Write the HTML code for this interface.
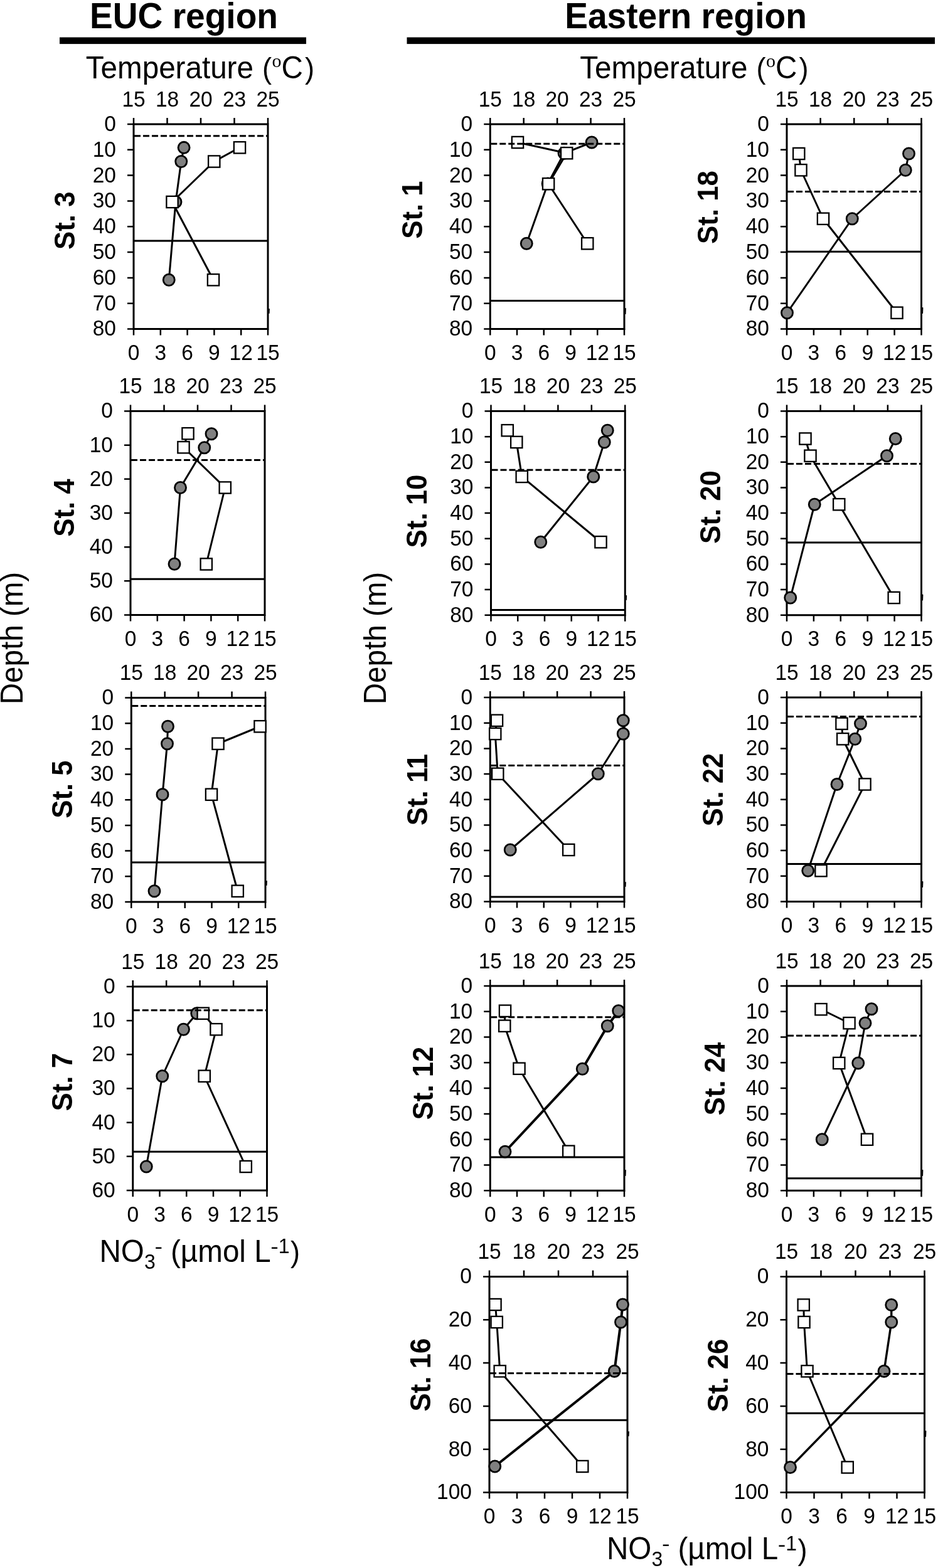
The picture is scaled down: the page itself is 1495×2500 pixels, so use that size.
<!DOCTYPE html>
<html lang="en"><head><meta charset="utf-8"><title>Temperature and nitrate depth profiles</title>
<style>
html,body{margin:0;padding:0;background:#fff;}
body{width:1495px;height:2500px;overflow:hidden;}
svg{display:block;}
text{font-family:"Liberation Sans",Arial,Helvetica,sans-serif;fill:#000;}
.tk{font-size:33.5px;}
.ax{font-size:47.6px;}
.st{font-size:45px;font-weight:bold;}
.ti{font-size:55.1px;font-weight:bold;}
.sub{font-size:32px;}
.a{stroke:#000;stroke-width:3;fill:none;stroke-linecap:butt;}
.t{stroke:#000;stroke-width:2.5;fill:none;}
.l{stroke:#000;stroke-width:3;fill:none;stroke-linejoin:round;}
.d{stroke:#000;stroke-width:3;fill:none;stroke-dasharray:10 4;}
.h{stroke:#000;stroke-width:2.8;fill:none;}
.c{fill:#808080;stroke:#000;stroke-width:2.8;}
.s{fill:#fff;stroke:#000;stroke-width:2.3;}
</style></head><body>
<svg width="1495" height="2500" viewBox="0 0 1495 2500">
<rect x="0" y="0" width="1495" height="2500" fill="#fff"/>
<text class="ti" transform="translate(293 44.7) scale(1 1.038)" text-anchor="middle">EUC region</text>
<rect x="95" y="59.5" width="393" height="10.6" fill="#000"/>
<text class="ti" transform="translate(1093 44.7) scale(1 1.038)" text-anchor="middle">Eastern region</text>
<rect x="648.5" y="59.5" width="841.5" height="10.6" fill="#000"/>
<text class="ax" transform="translate(136.8 125) scale(1 1.03)">Temperature</text>
<text class="ax" transform="translate(418 125.3) scale(0.95 0.985)">(</text>
<text class="ax" transform="translate(433.4 106.6)" style="font-family:'Liberation Serif','Times New Roman',serif;font-size:30px">o</text>
<text class="ax" transform="translate(448.6 125) scale(1 1.03)">C</text>
<text class="ax" transform="translate(486.1 125.3) scale(0.95 0.985)">)</text>
<text class="ax" transform="translate(924.3 125) scale(1 1.03)">Temperature</text>
<text class="ax" transform="translate(1205.5 125.3) scale(0.95 0.985)">(</text>
<text class="ax" transform="translate(1220.9 106.6)" style="font-family:'Liberation Serif','Times New Roman',serif;font-size:30px">o</text>
<text class="ax" transform="translate(1236.1 125) scale(1 1.03)">C</text>
<text class="ax" transform="translate(1273.6 125.3) scale(0.95 0.985)">)</text>
<text class="ax" transform="translate(158.5 2011.7) scale(1 1.03)">NO</text>
<text class="sub" transform="translate(230.1 2022.7) scale(1 1.02)">3</text>
<text class="sub" transform="translate(246.6 1997.85) scale(1.18 1)">-</text>
<text class="ax" transform="translate(272 2011.7) scale(1 1.03)">(µmol L</text>
<text class="sub" transform="translate(431.3 1997.9) scale(1.18 1)">-</text>
<text class="sub" transform="translate(443.65 1997.5) scale(1 1.03)">1</text>
<text class="ax" transform="translate(462.9 2012) scale(0.95 0.985)">)</text>
<text class="ax" transform="translate(967 2486.3) scale(1 1.03)">NO</text>
<text class="sub" transform="translate(1038.6 2497.3) scale(1 1.02)">3</text>
<text class="sub" transform="translate(1055.1 2472.45) scale(1.18 1)">-</text>
<text class="ax" transform="translate(1080.5 2486.3) scale(1 1.03)">(µmol L</text>
<text class="sub" transform="translate(1239.8 2472.5) scale(1.18 1)">-</text>
<text class="sub" transform="translate(1252.15 2472.1) scale(1 1.03)">1</text>
<text class="ax" transform="translate(1271.4 2486.6) scale(0.95 0.985)">)</text>
<text class="ax" transform="translate(35.5 1017.6) rotate(-90) scale(1 1.03)" text-anchor="middle">Depth (m)</text>
<text class="ax" transform="translate(615 1017.6) rotate(-90) scale(1 1.03)" text-anchor="middle">Depth (m)</text>
<g>
<text class="st" transform="translate(119 351.7) rotate(-90) scale(0.973 1.04)" text-anchor="middle">St. 3</text>
<text class="tk" transform="translate(213 169.5) scale(1 1.04)" text-anchor="middle">15</text>
<text class="tk" transform="translate(266.5 169.5) scale(1 1.04)" text-anchor="middle">18</text>
<text class="tk" transform="translate(320 169.5) scale(1 1.04)" text-anchor="middle">20</text>
<text class="tk" transform="translate(373.5 169.5) scale(1 1.04)" text-anchor="middle">23</text>
<text class="tk" transform="translate(427 169.5) scale(1 1.04)" text-anchor="middle">25</text>
<text class="tk" transform="translate(213 574.2) scale(1 1.04)" text-anchor="middle">0</text>
<text class="tk" transform="translate(255.8 574.2) scale(1 1.04)" text-anchor="middle">3</text>
<text class="tk" transform="translate(298.6 574.2) scale(1 1.04)" text-anchor="middle">6</text>
<text class="tk" transform="translate(341.4 574.2) scale(1 1.04)" text-anchor="middle">9</text>
<text class="tk" transform="translate(384.2 574.2) scale(1 1.04)" text-anchor="middle">12</text>
<text class="tk" transform="translate(427 574.2) scale(1 1.04)" text-anchor="middle">15</text>
<text class="tk" transform="translate(184.9 208.9) scale(1 1.04)" text-anchor="end">0</text>
<text class="tk" transform="translate(184.9 249.71) scale(1 1.04)" text-anchor="end">10</text>
<text class="tk" transform="translate(184.9 290.52) scale(1 1.04)" text-anchor="end">20</text>
<text class="tk" transform="translate(184.9 331.34) scale(1 1.04)" text-anchor="end">30</text>
<text class="tk" transform="translate(184.9 372.15) scale(1 1.04)" text-anchor="end">40</text>
<text class="tk" transform="translate(184.9 412.96) scale(1 1.04)" text-anchor="end">50</text>
<text class="tk" transform="translate(184.9 453.77) scale(1 1.04)" text-anchor="end">60</text>
<text class="tk" transform="translate(184.9 494.59) scale(1 1.04)" text-anchor="end">70</text>
<text class="tk" transform="translate(184.9 535.4) scale(1 1.04)" text-anchor="end">80</text>
<path class="t" d="M213 198V188M266.5 198V188M320 198V188M373.5 198V188M427 198V188M213 524.5V534.5M255.8 524.5V534.5M298.6 524.5V534.5M341.4 524.5V534.5M384.2 524.5V534.5M427 524.5V534.5M213 198H203M213 238.81H203M213 279.62H203M213 320.44H203M213 361.25H203M213 402.06H203M213 442.88H203M213 483.69H203M213 524.5H203"/>
<rect class="a" x="213" y="198" width="214" height="326.5"/>
<path d="M428.7 499.2L429 492.8" stroke="#000" stroke-width="1.8" stroke-linecap="round" fill="none"/>
<polyline class="l" points="293.1,235.3 288.75,257.5 280,322 269.25,446.25"/>
<circle class="c" cx="293.1" cy="235.3" r="9.05"/>
<circle class="c" cx="288.75" cy="257.5" r="9.05"/>
<circle class="c" cx="280" cy="322" r="9.05"/>
<circle class="c" cx="269.25" cy="446.25" r="9.05"/>
<polyline class="l" points="382,235.3 341.25,257.5 274.5,322 340,446.25"/>
<rect class="s" x="372.85" y="226.15" width="18.3" height="18.3"/>
<rect class="s" x="332.1" y="248.35" width="18.3" height="18.3"/>
<rect class="s" x="265.35" y="312.85" width="18.3" height="18.3"/>
<rect class="s" x="330.85" y="437.1" width="18.3" height="18.3"/>
<path class="d" d="M214 216.75H427"/>
<path class="h" d="M213 384H427"/>
</g>
<g>
<text class="st" transform="translate(118.2 809.5) rotate(-90) scale(0.973 1.04)" text-anchor="middle">St. 4</text>
<text class="tk" transform="translate(208 627) scale(1 1.04)" text-anchor="middle">15</text>
<text class="tk" transform="translate(261.5 627) scale(1 1.04)" text-anchor="middle">18</text>
<text class="tk" transform="translate(315 627) scale(1 1.04)" text-anchor="middle">20</text>
<text class="tk" transform="translate(368.5 627) scale(1 1.04)" text-anchor="middle">23</text>
<text class="tk" transform="translate(422 627) scale(1 1.04)" text-anchor="middle">25</text>
<text class="tk" transform="translate(208 1030.2) scale(1 1.04)" text-anchor="middle">0</text>
<text class="tk" transform="translate(250.8 1030.2) scale(1 1.04)" text-anchor="middle">3</text>
<text class="tk" transform="translate(293.6 1030.2) scale(1 1.04)" text-anchor="middle">6</text>
<text class="tk" transform="translate(336.4 1030.2) scale(1 1.04)" text-anchor="middle">9</text>
<text class="tk" transform="translate(379.2 1030.2) scale(1 1.04)" text-anchor="middle">12</text>
<text class="tk" transform="translate(422 1030.2) scale(1 1.04)" text-anchor="middle">15</text>
<text class="tk" transform="translate(179.9 666.4) scale(1 1.04)" text-anchor="end">0</text>
<text class="tk" transform="translate(179.9 720.57) scale(1 1.04)" text-anchor="end">10</text>
<text class="tk" transform="translate(179.9 774.73) scale(1 1.04)" text-anchor="end">20</text>
<text class="tk" transform="translate(179.9 828.9) scale(1 1.04)" text-anchor="end">30</text>
<text class="tk" transform="translate(179.9 883.07) scale(1 1.04)" text-anchor="end">40</text>
<text class="tk" transform="translate(179.9 937.23) scale(1 1.04)" text-anchor="end">50</text>
<text class="tk" transform="translate(179.9 991.4) scale(1 1.04)" text-anchor="end">60</text>
<path class="t" d="M208 655.5V645.5M261.5 655.5V645.5M315 655.5V645.5M368.5 655.5V645.5M422 655.5V645.5M208 980.5V990.5M250.8 980.5V990.5M293.6 980.5V990.5M336.4 980.5V990.5M379.2 980.5V990.5M422 980.5V990.5M208 655.5H198M208 709.67H198M208 763.83H198M208 818H198M208 872.17H198M208 926.33H198M208 980.5H198"/>
<rect class="a" x="208" y="655.5" width="214" height="325"/>
<polyline class="l" points="337,691.75 325.75,713.75 287.5,777.5 278,899.25"/>
<circle class="c" cx="337" cy="691.75" r="9.05"/>
<circle class="c" cx="325.75" cy="713.75" r="9.05"/>
<circle class="c" cx="287.5" cy="777.5" r="9.05"/>
<circle class="c" cx="278" cy="899.25" r="9.05"/>
<polyline class="l" points="299.5,691.25 292.5,713.25 358.75,777.5 328.75,899.5"/>
<rect class="s" x="290.35" y="682.1" width="18.3" height="18.3"/>
<rect class="s" x="283.35" y="704.1" width="18.3" height="18.3"/>
<rect class="s" x="349.6" y="768.35" width="18.3" height="18.3"/>
<rect class="s" x="319.6" y="890.35" width="18.3" height="18.3"/>
<path class="d" d="M209 733.5H422"/>
<path class="h" d="M208 923.25H422"/>
</g>
<g>
<text class="st" transform="translate(114.8 1258.5) rotate(-90) scale(0.973 1.04)" text-anchor="middle">St. 5</text>
<text class="tk" transform="translate(209.25 1084) scale(1 1.04)" text-anchor="middle">15</text>
<text class="tk" transform="translate(262.69 1084) scale(1 1.04)" text-anchor="middle">18</text>
<text class="tk" transform="translate(316.12 1084) scale(1 1.04)" text-anchor="middle">20</text>
<text class="tk" transform="translate(369.56 1084) scale(1 1.04)" text-anchor="middle">23</text>
<text class="tk" transform="translate(423 1084) scale(1 1.04)" text-anchor="middle">25</text>
<text class="tk" transform="translate(209.25 1487.7) scale(1 1.04)" text-anchor="middle">0</text>
<text class="tk" transform="translate(252 1487.7) scale(1 1.04)" text-anchor="middle">3</text>
<text class="tk" transform="translate(294.75 1487.7) scale(1 1.04)" text-anchor="middle">6</text>
<text class="tk" transform="translate(337.5 1487.7) scale(1 1.04)" text-anchor="middle">9</text>
<text class="tk" transform="translate(380.25 1487.7) scale(1 1.04)" text-anchor="middle">12</text>
<text class="tk" transform="translate(423 1487.7) scale(1 1.04)" text-anchor="middle">15</text>
<text class="tk" transform="translate(181.15 1123.4) scale(1 1.04)" text-anchor="end">0</text>
<text class="tk" transform="translate(181.15 1164.09) scale(1 1.04)" text-anchor="end">10</text>
<text class="tk" transform="translate(181.15 1204.78) scale(1 1.04)" text-anchor="end">20</text>
<text class="tk" transform="translate(181.15 1245.46) scale(1 1.04)" text-anchor="end">30</text>
<text class="tk" transform="translate(181.15 1286.15) scale(1 1.04)" text-anchor="end">40</text>
<text class="tk" transform="translate(181.15 1326.84) scale(1 1.04)" text-anchor="end">50</text>
<text class="tk" transform="translate(181.15 1367.53) scale(1 1.04)" text-anchor="end">60</text>
<text class="tk" transform="translate(181.15 1408.21) scale(1 1.04)" text-anchor="end">70</text>
<text class="tk" transform="translate(181.15 1448.9) scale(1 1.04)" text-anchor="end">80</text>
<path class="t" d="M209.25 1112.5V1102.5M262.69 1112.5V1102.5M316.12 1112.5V1102.5M369.56 1112.5V1102.5M423 1112.5V1102.5M209.25 1438V1448M252 1438V1448M294.75 1438V1448M337.5 1438V1448M380.25 1438V1448M423 1438V1448M209.25 1112.5H199.25M209.25 1153.19H199.25M209.25 1193.88H199.25M209.25 1234.56H199.25M209.25 1275.25H199.25M209.25 1315.94H199.25M209.25 1356.62H199.25M209.25 1397.31H199.25M209.25 1438H199.25"/>
<rect class="a" x="209.25" y="1112.5" width="213.75" height="325.5"/>
<path d="M424.7 1411.2L425 1404.8" stroke="#000" stroke-width="1.8" stroke-linecap="round" fill="none"/>
<polyline class="l" points="267.5,1158.25 266.5,1185.75 259,1266.75 246,1420.75"/>
<circle class="c" cx="267.5" cy="1158.25" r="9.05"/>
<circle class="c" cx="266.5" cy="1185.75" r="9.05"/>
<circle class="c" cx="259" cy="1266.75" r="9.05"/>
<circle class="c" cx="246" cy="1420.75" r="9.05"/>
<polyline class="l" points="414.5,1158.25 347.5,1185.75 337,1266.75 378.75,1420.75"/>
<rect class="s" x="405.35" y="1149.1" width="18.3" height="18.3"/>
<rect class="s" x="338.35" y="1176.6" width="18.3" height="18.3"/>
<rect class="s" x="327.85" y="1257.6" width="18.3" height="18.3"/>
<rect class="s" x="369.6" y="1411.6" width="18.3" height="18.3"/>
<path class="d" d="M210.25 1125.5H423"/>
<path class="h" d="M209.25 1375H423"/>
</g>
<g>
<text class="st" transform="translate(114.8 1725.2) rotate(-90) scale(0.973 1.04)" text-anchor="middle">St. 7</text>
<text class="tk" transform="translate(211.75 1544.5) scale(1 1.04)" text-anchor="middle">15</text>
<text class="tk" transform="translate(265.19 1544.5) scale(1 1.04)" text-anchor="middle">18</text>
<text class="tk" transform="translate(318.62 1544.5) scale(1 1.04)" text-anchor="middle">20</text>
<text class="tk" transform="translate(372.06 1544.5) scale(1 1.04)" text-anchor="middle">23</text>
<text class="tk" transform="translate(425.5 1544.5) scale(1 1.04)" text-anchor="middle">25</text>
<text class="tk" transform="translate(211.75 1947.7) scale(1 1.04)" text-anchor="middle">0</text>
<text class="tk" transform="translate(254.5 1947.7) scale(1 1.04)" text-anchor="middle">3</text>
<text class="tk" transform="translate(297.25 1947.7) scale(1 1.04)" text-anchor="middle">6</text>
<text class="tk" transform="translate(340 1947.7) scale(1 1.04)" text-anchor="middle">9</text>
<text class="tk" transform="translate(382.75 1947.7) scale(1 1.04)" text-anchor="middle">12</text>
<text class="tk" transform="translate(425.5 1947.7) scale(1 1.04)" text-anchor="middle">15</text>
<text class="tk" transform="translate(183.65 1583.9) scale(1 1.04)" text-anchor="end">0</text>
<text class="tk" transform="translate(183.65 1638.07) scale(1 1.04)" text-anchor="end">10</text>
<text class="tk" transform="translate(183.65 1692.23) scale(1 1.04)" text-anchor="end">20</text>
<text class="tk" transform="translate(183.65 1746.4) scale(1 1.04)" text-anchor="end">30</text>
<text class="tk" transform="translate(183.65 1800.57) scale(1 1.04)" text-anchor="end">40</text>
<text class="tk" transform="translate(183.65 1854.73) scale(1 1.04)" text-anchor="end">50</text>
<text class="tk" transform="translate(183.65 1908.9) scale(1 1.04)" text-anchor="end">60</text>
<path class="t" d="M211.75 1573V1563M265.19 1573V1563M318.62 1573V1563M372.06 1573V1563M425.5 1573V1563M211.75 1898V1908M254.5 1898V1908M297.25 1898V1908M340 1898V1908M382.75 1898V1908M425.5 1898V1908M211.75 1573H201.75M211.75 1627.17H201.75M211.75 1681.33H201.75M211.75 1735.5H201.75M211.75 1789.67H201.75M211.75 1843.83H201.75M211.75 1898H201.75"/>
<rect class="a" x="211.75" y="1573" width="213.75" height="325"/>
<polyline class="l" points="313.75,1615.75 292.5,1641.25 258.75,1715.75 233.25,1860"/>
<circle class="c" cx="313.75" cy="1615.75" r="9.05"/>
<circle class="c" cx="292.5" cy="1641.25" r="9.05"/>
<circle class="c" cx="258.75" cy="1715.75" r="9.05"/>
<circle class="c" cx="233.25" cy="1860" r="9.05"/>
<polyline class="l" points="323.75,1615.75 344.5,1641.25 325.75,1715.75 391.75,1860"/>
<rect class="s" x="314.6" y="1606.6" width="18.3" height="18.3"/>
<rect class="s" x="335.35" y="1632.1" width="18.3" height="18.3"/>
<rect class="s" x="316.6" y="1706.6" width="18.3" height="18.3"/>
<rect class="s" x="382.6" y="1850.85" width="18.3" height="18.3"/>
<path class="d" d="M212.75 1610.75H425.5"/>
<path class="h" d="M211.75 1836.25H425.5"/>
</g>
<g>
<text class="st" transform="translate(672.5 334.5) rotate(-90) scale(0.973 1.04)" text-anchor="middle">St. 1</text>
<text class="tk" transform="translate(781.25 169.5) scale(1 1.04)" text-anchor="middle">15</text>
<text class="tk" transform="translate(834.69 169.5) scale(1 1.04)" text-anchor="middle">18</text>
<text class="tk" transform="translate(888.12 169.5) scale(1 1.04)" text-anchor="middle">20</text>
<text class="tk" transform="translate(941.56 169.5) scale(1 1.04)" text-anchor="middle">23</text>
<text class="tk" transform="translate(995 169.5) scale(1 1.04)" text-anchor="middle">25</text>
<text class="tk" transform="translate(781.25 574.2) scale(1 1.04)" text-anchor="middle">0</text>
<text class="tk" transform="translate(824 574.2) scale(1 1.04)" text-anchor="middle">3</text>
<text class="tk" transform="translate(866.75 574.2) scale(1 1.04)" text-anchor="middle">6</text>
<text class="tk" transform="translate(909.5 574.2) scale(1 1.04)" text-anchor="middle">9</text>
<text class="tk" transform="translate(952.25 574.2) scale(1 1.04)" text-anchor="middle">12</text>
<text class="tk" transform="translate(995 574.2) scale(1 1.04)" text-anchor="middle">15</text>
<text class="tk" transform="translate(753.15 208.9) scale(1 1.04)" text-anchor="end">0</text>
<text class="tk" transform="translate(753.15 249.71) scale(1 1.04)" text-anchor="end">10</text>
<text class="tk" transform="translate(753.15 290.52) scale(1 1.04)" text-anchor="end">20</text>
<text class="tk" transform="translate(753.15 331.34) scale(1 1.04)" text-anchor="end">30</text>
<text class="tk" transform="translate(753.15 372.15) scale(1 1.04)" text-anchor="end">40</text>
<text class="tk" transform="translate(753.15 412.96) scale(1 1.04)" text-anchor="end">50</text>
<text class="tk" transform="translate(753.15 453.77) scale(1 1.04)" text-anchor="end">60</text>
<text class="tk" transform="translate(753.15 494.59) scale(1 1.04)" text-anchor="end">70</text>
<text class="tk" transform="translate(753.15 535.4) scale(1 1.04)" text-anchor="end">80</text>
<path class="t" d="M781.25 198V188M834.69 198V188M888.12 198V188M941.56 198V188M995 198V188M781.25 524.5V534.5M824 524.5V534.5M866.75 524.5V534.5M909.5 524.5V534.5M952.25 524.5V534.5M995 524.5V534.5M781.25 198H771.25M781.25 238.81H771.25M781.25 279.62H771.25M781.25 320.44H771.25M781.25 361.25H771.25M781.25 402.06H771.25M781.25 442.88H771.25M781.25 483.69H771.25M781.25 524.5H771.25"/>
<rect class="a" x="781.25" y="198" width="213.75" height="326.5"/>
<path d="M996.7 500.2L997 491.8" stroke="#000" stroke-width="1.8" stroke-linecap="round" fill="none"/>
<polyline class="l" points="943.1,227 899,244.3 873.1,292.9 839.25,388.25"/>
<circle class="c" cx="943.1" cy="227" r="9.05"/>
<circle class="c" cx="899" cy="244.3" r="9.05"/>
<circle class="c" cx="873.1" cy="292.9" r="9.05"/>
<circle class="c" cx="839.25" cy="388.25" r="9.05"/>
<polyline class="l" points="825,227 903.2,244.2 874.1,293.2 936.25,388.25"/>
<rect class="s" x="815.85" y="217.85" width="18.3" height="18.3"/>
<rect class="s" x="894.05" y="235.05" width="18.3" height="18.3"/>
<rect class="s" x="864.95" y="284.05" width="18.3" height="18.3"/>
<rect class="s" x="927.1" y="379.1" width="18.3" height="18.3"/>
<path class="d" d="M782.25 229.25H995"/>
<path class="h" d="M781.25 479.5H995"/>
</g>
<g>
<text class="st" transform="translate(680 815) rotate(-90) scale(0.973 1.04)" text-anchor="middle">St. 10</text>
<text class="tk" transform="translate(782.5 627) scale(1 1.04)" text-anchor="middle">15</text>
<text class="tk" transform="translate(835.94 627) scale(1 1.04)" text-anchor="middle">18</text>
<text class="tk" transform="translate(889.38 627) scale(1 1.04)" text-anchor="middle">20</text>
<text class="tk" transform="translate(942.81 627) scale(1 1.04)" text-anchor="middle">23</text>
<text class="tk" transform="translate(996.25 627) scale(1 1.04)" text-anchor="middle">25</text>
<text class="tk" transform="translate(782.5 1030.45) scale(1 1.04)" text-anchor="middle">0</text>
<text class="tk" transform="translate(825.25 1030.45) scale(1 1.04)" text-anchor="middle">3</text>
<text class="tk" transform="translate(868 1030.45) scale(1 1.04)" text-anchor="middle">6</text>
<text class="tk" transform="translate(910.75 1030.45) scale(1 1.04)" text-anchor="middle">9</text>
<text class="tk" transform="translate(953.5 1030.45) scale(1 1.04)" text-anchor="middle">12</text>
<text class="tk" transform="translate(996.25 1030.45) scale(1 1.04)" text-anchor="middle">15</text>
<text class="tk" transform="translate(754.4 666.4) scale(1 1.04)" text-anchor="end">0</text>
<text class="tk" transform="translate(754.4 707.06) scale(1 1.04)" text-anchor="end">10</text>
<text class="tk" transform="translate(754.4 747.71) scale(1 1.04)" text-anchor="end">20</text>
<text class="tk" transform="translate(754.4 788.37) scale(1 1.04)" text-anchor="end">30</text>
<text class="tk" transform="translate(754.4 829.02) scale(1 1.04)" text-anchor="end">40</text>
<text class="tk" transform="translate(754.4 869.68) scale(1 1.04)" text-anchor="end">50</text>
<text class="tk" transform="translate(754.4 910.34) scale(1 1.04)" text-anchor="end">60</text>
<text class="tk" transform="translate(754.4 950.99) scale(1 1.04)" text-anchor="end">70</text>
<text class="tk" transform="translate(754.4 991.65) scale(1 1.04)" text-anchor="end">80</text>
<path class="t" d="M782.5 655.5V645.5M835.94 655.5V645.5M889.38 655.5V645.5M942.81 655.5V645.5M996.25 655.5V645.5M782.5 980.75V990.75M825.25 980.75V990.75M868 980.75V990.75M910.75 980.75V990.75M953.5 980.75V990.75M996.25 980.75V990.75M782.5 655.5H772.5M782.5 696.16H772.5M782.5 736.81H772.5M782.5 777.47H772.5M782.5 818.12H772.5M782.5 858.78H772.5M782.5 899.44H772.5M782.5 940.09H772.5M782.5 980.75H772.5"/>
<rect class="a" x="782.5" y="655.5" width="213.75" height="325.25"/>
<path d="M997.95 956.2L998.25 949.8" stroke="#000" stroke-width="1.8" stroke-linecap="round" fill="none"/>
<polyline class="l" points="968.25,686.25 963.25,705 945.75,760 861.75,864.25"/>
<circle class="c" cx="968.25" cy="686.25" r="9.05"/>
<circle class="c" cx="963.25" cy="705" r="9.05"/>
<circle class="c" cx="945.75" cy="760" r="9.05"/>
<circle class="c" cx="861.75" cy="864.25" r="9.05"/>
<polyline class="l" points="808.75,686.25 823.25,705 831.75,760 957.5,864.25"/>
<rect class="s" x="799.6" y="677.1" width="18.3" height="18.3"/>
<rect class="s" x="814.1" y="695.85" width="18.3" height="18.3"/>
<rect class="s" x="822.6" y="750.85" width="18.3" height="18.3"/>
<rect class="s" x="948.35" y="855.1" width="18.3" height="18.3"/>
<path class="d" d="M783.5 749.25H996.25"/>
<path class="h" d="M782.5 972.5H996.25"/>
</g>
<g>
<text class="st" transform="translate(681 1259) rotate(-90) scale(0.973 1.04)" text-anchor="middle">St. 11</text>
<text class="tk" transform="translate(781.25 1083.5) scale(1 1.04)" text-anchor="middle">15</text>
<text class="tk" transform="translate(834.69 1083.5) scale(1 1.04)" text-anchor="middle">18</text>
<text class="tk" transform="translate(888.12 1083.5) scale(1 1.04)" text-anchor="middle">20</text>
<text class="tk" transform="translate(941.56 1083.5) scale(1 1.04)" text-anchor="middle">23</text>
<text class="tk" transform="translate(995 1083.5) scale(1 1.04)" text-anchor="middle">25</text>
<text class="tk" transform="translate(781.25 1487.2) scale(1 1.04)" text-anchor="middle">0</text>
<text class="tk" transform="translate(824 1487.2) scale(1 1.04)" text-anchor="middle">3</text>
<text class="tk" transform="translate(866.75 1487.2) scale(1 1.04)" text-anchor="middle">6</text>
<text class="tk" transform="translate(909.5 1487.2) scale(1 1.04)" text-anchor="middle">9</text>
<text class="tk" transform="translate(952.25 1487.2) scale(1 1.04)" text-anchor="middle">12</text>
<text class="tk" transform="translate(995 1487.2) scale(1 1.04)" text-anchor="middle">15</text>
<text class="tk" transform="translate(753.15 1122.9) scale(1 1.04)" text-anchor="end">0</text>
<text class="tk" transform="translate(753.15 1163.59) scale(1 1.04)" text-anchor="end">10</text>
<text class="tk" transform="translate(753.15 1204.28) scale(1 1.04)" text-anchor="end">20</text>
<text class="tk" transform="translate(753.15 1244.96) scale(1 1.04)" text-anchor="end">30</text>
<text class="tk" transform="translate(753.15 1285.65) scale(1 1.04)" text-anchor="end">40</text>
<text class="tk" transform="translate(753.15 1326.34) scale(1 1.04)" text-anchor="end">50</text>
<text class="tk" transform="translate(753.15 1367.03) scale(1 1.04)" text-anchor="end">60</text>
<text class="tk" transform="translate(753.15 1407.71) scale(1 1.04)" text-anchor="end">70</text>
<text class="tk" transform="translate(753.15 1448.4) scale(1 1.04)" text-anchor="end">80</text>
<path class="t" d="M781.25 1112V1102M834.69 1112V1102M888.12 1112V1102M941.56 1112V1102M995 1112V1102M781.25 1437.5V1447.5M824 1437.5V1447.5M866.75 1437.5V1447.5M909.5 1437.5V1447.5M952.25 1437.5V1447.5M995 1437.5V1447.5M781.25 1112H771.25M781.25 1152.69H771.25M781.25 1193.38H771.25M781.25 1234.06H771.25M781.25 1274.75H771.25M781.25 1315.44H771.25M781.25 1356.12H771.25M781.25 1396.81H771.25M781.25 1437.5H771.25"/>
<rect class="a" x="781.25" y="1112" width="213.75" height="325.5"/>
<path d="M996.7 1413.2L997 1406.8" stroke="#000" stroke-width="1.8" stroke-linecap="round" fill="none"/>
<polyline class="l" points="993.25,1148.75 993.25,1170 953.25,1233.75 813.25,1355"/>
<circle class="c" cx="993.25" cy="1148.75" r="9.05"/>
<circle class="c" cx="993.25" cy="1170" r="9.05"/>
<circle class="c" cx="953.25" cy="1233.75" r="9.05"/>
<circle class="c" cx="813.25" cy="1355" r="9.05"/>
<polyline class="l" points="792,1148.75 789.25,1170 793.25,1233.75 906.25,1355"/>
<rect class="s" x="782.85" y="1139.6" width="18.3" height="18.3"/>
<rect class="s" x="780.1" y="1160.85" width="18.3" height="18.3"/>
<rect class="s" x="784.1" y="1224.6" width="18.3" height="18.3"/>
<rect class="s" x="897.1" y="1345.85" width="18.3" height="18.3"/>
<path class="d" d="M782.25 1220.5H995"/>
<path class="h" d="M781.25 1430H995"/>
</g>
<g>
<text class="st" transform="translate(689.5 1727) rotate(-90) scale(0.973 1.04)" text-anchor="middle">St. 12</text>
<text class="tk" transform="translate(781.25 1543.5) scale(1 1.04)" text-anchor="middle">15</text>
<text class="tk" transform="translate(834.69 1543.5) scale(1 1.04)" text-anchor="middle">18</text>
<text class="tk" transform="translate(888.12 1543.5) scale(1 1.04)" text-anchor="middle">20</text>
<text class="tk" transform="translate(941.56 1543.5) scale(1 1.04)" text-anchor="middle">23</text>
<text class="tk" transform="translate(995 1543.5) scale(1 1.04)" text-anchor="middle">25</text>
<text class="tk" transform="translate(781.25 1947.95) scale(1 1.04)" text-anchor="middle">0</text>
<text class="tk" transform="translate(824 1947.95) scale(1 1.04)" text-anchor="middle">3</text>
<text class="tk" transform="translate(866.75 1947.95) scale(1 1.04)" text-anchor="middle">6</text>
<text class="tk" transform="translate(909.5 1947.95) scale(1 1.04)" text-anchor="middle">9</text>
<text class="tk" transform="translate(952.25 1947.95) scale(1 1.04)" text-anchor="middle">12</text>
<text class="tk" transform="translate(995 1947.95) scale(1 1.04)" text-anchor="middle">15</text>
<text class="tk" transform="translate(753.15 1582.9) scale(1 1.04)" text-anchor="end">0</text>
<text class="tk" transform="translate(753.15 1623.68) scale(1 1.04)" text-anchor="end">10</text>
<text class="tk" transform="translate(753.15 1664.46) scale(1 1.04)" text-anchor="end">20</text>
<text class="tk" transform="translate(753.15 1705.24) scale(1 1.04)" text-anchor="end">30</text>
<text class="tk" transform="translate(753.15 1746.03) scale(1 1.04)" text-anchor="end">40</text>
<text class="tk" transform="translate(753.15 1786.81) scale(1 1.04)" text-anchor="end">50</text>
<text class="tk" transform="translate(753.15 1827.59) scale(1 1.04)" text-anchor="end">60</text>
<text class="tk" transform="translate(753.15 1868.37) scale(1 1.04)" text-anchor="end">70</text>
<text class="tk" transform="translate(753.15 1909.15) scale(1 1.04)" text-anchor="end">80</text>
<path class="t" d="M781.25 1572V1562M834.69 1572V1562M888.12 1572V1562M941.56 1572V1562M995 1572V1562M781.25 1898.25V1908.25M824 1898.25V1908.25M866.75 1898.25V1908.25M909.5 1898.25V1908.25M952.25 1898.25V1908.25M995 1898.25V1908.25M781.25 1572H771.25M781.25 1612.78H771.25M781.25 1653.56H771.25M781.25 1694.34H771.25M781.25 1735.12H771.25M781.25 1775.91H771.25M781.25 1816.69H771.25M781.25 1857.47H771.25M781.25 1898.25H771.25"/>
<rect class="a" x="781.25" y="1572" width="213.75" height="326.25"/>
<path d="M996.7 1874.2L997 1865.8" stroke="#000" stroke-width="1.8" stroke-linecap="round" fill="none"/>
<polyline class="l" style="stroke-width:4" points="985.75,1611.75 968.25,1635.75 928.25,1704.25 805,1836.25"/>
<circle class="c" cx="985.75" cy="1611.75" r="9.05"/>
<circle class="c" cx="968.25" cy="1635.75" r="9.05"/>
<circle class="c" cx="928.25" cy="1704.25" r="9.05"/>
<circle class="c" cx="805" cy="1836.25" r="9.05"/>
<polyline class="l" points="805,1611.75 804.25,1635.75 827.5,1703.75 906.25,1835.75"/>
<rect class="s" x="795.85" y="1602.6" width="18.3" height="18.3"/>
<rect class="s" x="795.1" y="1626.6" width="18.3" height="18.3"/>
<rect class="s" x="818.35" y="1694.6" width="18.3" height="18.3"/>
<rect class="s" x="897.1" y="1826.6" width="18.3" height="18.3"/>
<path class="d" d="M782.25 1621.75H995"/>
<path class="h" d="M781.25 1845H995"/>
</g>
<g>
<text class="st" transform="translate(686 2192) rotate(-90) scale(0.973 1.04)" text-anchor="middle">St. 16</text>
<text class="tk" transform="translate(780 2007) scale(1 1.04)" text-anchor="middle">15</text>
<text class="tk" transform="translate(835 2007) scale(1 1.04)" text-anchor="middle">18</text>
<text class="tk" transform="translate(890 2007) scale(1 1.04)" text-anchor="middle">20</text>
<text class="tk" transform="translate(945 2007) scale(1 1.04)" text-anchor="middle">23</text>
<text class="tk" transform="translate(1000 2007) scale(1 1.04)" text-anchor="middle">25</text>
<text class="tk" transform="translate(780 2429.2) scale(1 1.04)" text-anchor="middle">0</text>
<text class="tk" transform="translate(824 2429.2) scale(1 1.04)" text-anchor="middle">3</text>
<text class="tk" transform="translate(868 2429.2) scale(1 1.04)" text-anchor="middle">6</text>
<text class="tk" transform="translate(912 2429.2) scale(1 1.04)" text-anchor="middle">9</text>
<text class="tk" transform="translate(956 2429.2) scale(1 1.04)" text-anchor="middle">12</text>
<text class="tk" transform="translate(1000 2429.2) scale(1 1.04)" text-anchor="middle">15</text>
<text class="tk" transform="translate(751.9 2046.4) scale(1 1.04)" text-anchor="end">0</text>
<text class="tk" transform="translate(751.9 2115.2) scale(1 1.04)" text-anchor="end">20</text>
<text class="tk" transform="translate(751.9 2184) scale(1 1.04)" text-anchor="end">40</text>
<text class="tk" transform="translate(751.9 2252.8) scale(1 1.04)" text-anchor="end">60</text>
<text class="tk" transform="translate(751.9 2321.6) scale(1 1.04)" text-anchor="end">80</text>
<text class="tk" transform="translate(751.9 2390.4) scale(1 1.04)" text-anchor="end">100</text>
<path class="t" d="M780 2035.5V2025.5M835 2035.5V2025.5M890 2035.5V2025.5M945 2035.5V2025.5M1000 2035.5V2025.5M780 2379.5V2389.5M824 2379.5V2389.5M868 2379.5V2389.5M912 2379.5V2389.5M956 2379.5V2389.5M1000 2379.5V2389.5M780 2035.5H770M780 2104.3H770M780 2173.1H770M780 2241.9H770M780 2310.7H770M780 2379.5H770"/>
<rect class="a" x="780" y="2035.5" width="220" height="344"/>
<path d="M1001.7 2289.2L1002 2282.8" stroke="#000" stroke-width="1.8" stroke-linecap="round" fill="none"/>
<polyline class="l" style="stroke-width:4" points="992.5,2080 989.5,2108 979.25,2186.25 788.75,2338"/>
<circle class="c" cx="992.5" cy="2080" r="9.05"/>
<circle class="c" cx="989.5" cy="2108" r="9.05"/>
<circle class="c" cx="979.25" cy="2186.25" r="9.05"/>
<circle class="c" cx="788.75" cy="2338" r="9.05"/>
<polyline class="l" points="789.5,2080 791.75,2108 796.75,2186.25 928.25,2338"/>
<rect class="s" x="780.35" y="2070.85" width="18.3" height="18.3"/>
<rect class="s" x="782.6" y="2098.85" width="18.3" height="18.3"/>
<rect class="s" x="787.6" y="2177.1" width="18.3" height="18.3"/>
<rect class="s" x="919.1" y="2328.85" width="18.3" height="18.3"/>
<path class="d" d="M781 2189.5H1000"/>
<path class="h" d="M780 2264.25H1000"/>
</g>
<g>
<text class="st" transform="translate(1143.6 330.5) rotate(-90) scale(0.973 1.04)" text-anchor="middle">St. 18</text>
<text class="tk" transform="translate(1254 169.5) scale(1 1.04)" text-anchor="middle">15</text>
<text class="tk" transform="translate(1307.62 169.5) scale(1 1.04)" text-anchor="middle">18</text>
<text class="tk" transform="translate(1361.25 169.5) scale(1 1.04)" text-anchor="middle">20</text>
<text class="tk" transform="translate(1414.88 169.5) scale(1 1.04)" text-anchor="middle">23</text>
<text class="tk" transform="translate(1468.5 169.5) scale(1 1.04)" text-anchor="middle">25</text>
<text class="tk" transform="translate(1254 574.2) scale(1 1.04)" text-anchor="middle">0</text>
<text class="tk" transform="translate(1296.9 574.2) scale(1 1.04)" text-anchor="middle">3</text>
<text class="tk" transform="translate(1339.8 574.2) scale(1 1.04)" text-anchor="middle">6</text>
<text class="tk" transform="translate(1382.7 574.2) scale(1 1.04)" text-anchor="middle">9</text>
<text class="tk" transform="translate(1425.6 574.2) scale(1 1.04)" text-anchor="middle">12</text>
<text class="tk" transform="translate(1468.5 574.2) scale(1 1.04)" text-anchor="middle">15</text>
<text class="tk" transform="translate(1225.9 208.9) scale(1 1.04)" text-anchor="end">0</text>
<text class="tk" transform="translate(1225.9 249.71) scale(1 1.04)" text-anchor="end">10</text>
<text class="tk" transform="translate(1225.9 290.52) scale(1 1.04)" text-anchor="end">20</text>
<text class="tk" transform="translate(1225.9 331.34) scale(1 1.04)" text-anchor="end">30</text>
<text class="tk" transform="translate(1225.9 372.15) scale(1 1.04)" text-anchor="end">40</text>
<text class="tk" transform="translate(1225.9 412.96) scale(1 1.04)" text-anchor="end">50</text>
<text class="tk" transform="translate(1225.9 453.77) scale(1 1.04)" text-anchor="end">60</text>
<text class="tk" transform="translate(1225.9 494.59) scale(1 1.04)" text-anchor="end">70</text>
<text class="tk" transform="translate(1225.9 535.4) scale(1 1.04)" text-anchor="end">80</text>
<path class="t" d="M1254 198V188M1307.62 198V188M1361.25 198V188M1414.88 198V188M1468.5 198V188M1254 524.5V534.5M1296.9 524.5V534.5M1339.8 524.5V534.5M1382.7 524.5V534.5M1425.6 524.5V534.5M1468.5 524.5V534.5M1254 198H1244M1254 238.81H1244M1254 279.62H1244M1254 320.44H1244M1254 361.25H1244M1254 402.06H1244M1254 442.88H1244M1254 483.69H1244M1254 524.5H1244"/>
<rect class="a" x="1254" y="198" width="214.5" height="326.5"/>
<path d="M1470.2 499.2L1470.5 490.8" stroke="#000" stroke-width="1.8" stroke-linecap="round" fill="none"/>
<polyline class="l" points="1448.5,245 1443.25,271.25 1358.25,348.75 1254.5,498.75"/>
<circle class="c" cx="1448.5" cy="245" r="9.05"/>
<circle class="c" cx="1443.25" cy="271.25" r="9.05"/>
<circle class="c" cx="1358.25" cy="348.75" r="9.05"/>
<circle class="c" cx="1254.5" cy="498.75" r="9.05"/>
<polyline class="l" points="1273.25,245 1276.5,271.25 1312,348.75 1429.5,498.75"/>
<rect class="s" x="1264.1" y="235.85" width="18.3" height="18.3"/>
<rect class="s" x="1267.35" y="262.1" width="18.3" height="18.3"/>
<rect class="s" x="1302.85" y="339.6" width="18.3" height="18.3"/>
<rect class="s" x="1420.35" y="489.6" width="18.3" height="18.3"/>
<path class="d" d="M1255 305.5H1468.5"/>
<path class="h" d="M1254 401.25H1468.5"/>
</g>
<g>
<text class="st" transform="translate(1148.2 808.5) rotate(-90) scale(0.973 1.04)" text-anchor="middle">St. 20</text>
<text class="tk" transform="translate(1254 627) scale(1 1.04)" text-anchor="middle">15</text>
<text class="tk" transform="translate(1307.62 627) scale(1 1.04)" text-anchor="middle">18</text>
<text class="tk" transform="translate(1361.25 627) scale(1 1.04)" text-anchor="middle">20</text>
<text class="tk" transform="translate(1414.88 627) scale(1 1.04)" text-anchor="middle">23</text>
<text class="tk" transform="translate(1468.5 627) scale(1 1.04)" text-anchor="middle">25</text>
<text class="tk" transform="translate(1254 1030.45) scale(1 1.04)" text-anchor="middle">0</text>
<text class="tk" transform="translate(1296.9 1030.45) scale(1 1.04)" text-anchor="middle">3</text>
<text class="tk" transform="translate(1339.8 1030.45) scale(1 1.04)" text-anchor="middle">6</text>
<text class="tk" transform="translate(1382.7 1030.45) scale(1 1.04)" text-anchor="middle">9</text>
<text class="tk" transform="translate(1425.6 1030.45) scale(1 1.04)" text-anchor="middle">12</text>
<text class="tk" transform="translate(1468.5 1030.45) scale(1 1.04)" text-anchor="middle">15</text>
<text class="tk" transform="translate(1225.9 666.4) scale(1 1.04)" text-anchor="end">0</text>
<text class="tk" transform="translate(1225.9 707.06) scale(1 1.04)" text-anchor="end">10</text>
<text class="tk" transform="translate(1225.9 747.71) scale(1 1.04)" text-anchor="end">20</text>
<text class="tk" transform="translate(1225.9 788.37) scale(1 1.04)" text-anchor="end">30</text>
<text class="tk" transform="translate(1225.9 829.02) scale(1 1.04)" text-anchor="end">40</text>
<text class="tk" transform="translate(1225.9 869.68) scale(1 1.04)" text-anchor="end">50</text>
<text class="tk" transform="translate(1225.9 910.34) scale(1 1.04)" text-anchor="end">60</text>
<text class="tk" transform="translate(1225.9 950.99) scale(1 1.04)" text-anchor="end">70</text>
<text class="tk" transform="translate(1225.9 991.65) scale(1 1.04)" text-anchor="end">80</text>
<path class="t" d="M1254 655.5V645.5M1307.62 655.5V645.5M1361.25 655.5V645.5M1414.88 655.5V645.5M1468.5 655.5V645.5M1254 980.75V990.75M1296.9 980.75V990.75M1339.8 980.75V990.75M1382.7 980.75V990.75M1425.6 980.75V990.75M1468.5 980.75V990.75M1254 655.5H1244M1254 696.16H1244M1254 736.81H1244M1254 777.47H1244M1254 818.12H1244M1254 858.78H1244M1254 899.44H1244M1254 940.09H1244M1254 980.75H1244"/>
<rect class="a" x="1254" y="655.5" width="214.5" height="325.25"/>
<path d="M1470.2 956.7L1470.5 948.3" stroke="#000" stroke-width="1.8" stroke-linecap="round" fill="none"/>
<polyline class="l" points="1427.25,699.5 1413.5,726.75 1298.25,804.25 1259.75,953"/>
<circle class="c" cx="1427.25" cy="699.5" r="9.05"/>
<circle class="c" cx="1413.5" cy="726.75" r="9.05"/>
<circle class="c" cx="1298.25" cy="804.25" r="9.05"/>
<circle class="c" cx="1259.75" cy="953" r="9.05"/>
<polyline class="l" points="1283.5,699.5 1291.5,726.75 1337.25,804.25 1424.75,953"/>
<rect class="s" x="1274.35" y="690.35" width="18.3" height="18.3"/>
<rect class="s" x="1282.35" y="717.6" width="18.3" height="18.3"/>
<rect class="s" x="1328.1" y="795.1" width="18.3" height="18.3"/>
<rect class="s" x="1415.6" y="943.85" width="18.3" height="18.3"/>
<path class="d" d="M1255 739.5H1468.5"/>
<path class="h" d="M1254 865H1468.5"/>
</g>
<g>
<text class="st" transform="translate(1151.7 1259) rotate(-90) scale(0.973 1.04)" text-anchor="middle">St. 22</text>
<text class="tk" transform="translate(1254 1083.5) scale(1 1.04)" text-anchor="middle">15</text>
<text class="tk" transform="translate(1307.62 1083.5) scale(1 1.04)" text-anchor="middle">18</text>
<text class="tk" transform="translate(1361.25 1083.5) scale(1 1.04)" text-anchor="middle">20</text>
<text class="tk" transform="translate(1414.88 1083.5) scale(1 1.04)" text-anchor="middle">23</text>
<text class="tk" transform="translate(1468.5 1083.5) scale(1 1.04)" text-anchor="middle">25</text>
<text class="tk" transform="translate(1254 1487.2) scale(1 1.04)" text-anchor="middle">0</text>
<text class="tk" transform="translate(1296.9 1487.2) scale(1 1.04)" text-anchor="middle">3</text>
<text class="tk" transform="translate(1339.8 1487.2) scale(1 1.04)" text-anchor="middle">6</text>
<text class="tk" transform="translate(1382.7 1487.2) scale(1 1.04)" text-anchor="middle">9</text>
<text class="tk" transform="translate(1425.6 1487.2) scale(1 1.04)" text-anchor="middle">12</text>
<text class="tk" transform="translate(1468.5 1487.2) scale(1 1.04)" text-anchor="middle">15</text>
<text class="tk" transform="translate(1225.9 1122.9) scale(1 1.04)" text-anchor="end">0</text>
<text class="tk" transform="translate(1225.9 1163.59) scale(1 1.04)" text-anchor="end">10</text>
<text class="tk" transform="translate(1225.9 1204.28) scale(1 1.04)" text-anchor="end">20</text>
<text class="tk" transform="translate(1225.9 1244.96) scale(1 1.04)" text-anchor="end">30</text>
<text class="tk" transform="translate(1225.9 1285.65) scale(1 1.04)" text-anchor="end">40</text>
<text class="tk" transform="translate(1225.9 1326.34) scale(1 1.04)" text-anchor="end">50</text>
<text class="tk" transform="translate(1225.9 1367.03) scale(1 1.04)" text-anchor="end">60</text>
<text class="tk" transform="translate(1225.9 1407.71) scale(1 1.04)" text-anchor="end">70</text>
<text class="tk" transform="translate(1225.9 1448.4) scale(1 1.04)" text-anchor="end">80</text>
<path class="t" d="M1254 1112V1102M1307.62 1112V1102M1361.25 1112V1102M1414.88 1112V1102M1468.5 1112V1102M1254 1437.5V1447.5M1296.9 1437.5V1447.5M1339.8 1437.5V1447.5M1382.7 1437.5V1447.5M1425.6 1437.5V1447.5M1468.5 1437.5V1447.5M1254 1112H1244M1254 1152.69H1244M1254 1193.38H1244M1254 1234.06H1244M1254 1274.75H1244M1254 1315.44H1244M1254 1356.12H1244M1254 1396.81H1244M1254 1437.5H1244"/>
<rect class="a" x="1254" y="1112" width="214.5" height="325.5"/>
<path d="M1470.2 1414.2L1470.5 1405.8" stroke="#000" stroke-width="1.8" stroke-linecap="round" fill="none"/>
<polyline class="l" points="1371.5,1153.75 1362.75,1178.25 1334,1250.5 1287.75,1388.25"/>
<circle class="c" cx="1371.5" cy="1153.75" r="9.05"/>
<circle class="c" cx="1362.75" cy="1178.25" r="9.05"/>
<circle class="c" cx="1334" cy="1250.5" r="9.05"/>
<circle class="c" cx="1287.75" cy="1388.25" r="9.05"/>
<polyline class="l" points="1341.5,1153.75 1343.25,1178.25 1378.5,1250.5 1308.5,1388.25"/>
<rect class="s" x="1332.35" y="1144.6" width="18.3" height="18.3"/>
<rect class="s" x="1334.1" y="1169.1" width="18.3" height="18.3"/>
<rect class="s" x="1369.35" y="1241.35" width="18.3" height="18.3"/>
<rect class="s" x="1299.35" y="1379.1" width="18.3" height="18.3"/>
<path class="d" d="M1255 1142.5H1468.5"/>
<path class="h" d="M1254 1377.5H1468.5"/>
</g>
<g>
<text class="st" transform="translate(1154.5 1720) rotate(-90) scale(0.973 1.04)" text-anchor="middle">St. 24</text>
<text class="tk" transform="translate(1254 1543.5) scale(1 1.04)" text-anchor="middle">15</text>
<text class="tk" transform="translate(1307.62 1543.5) scale(1 1.04)" text-anchor="middle">18</text>
<text class="tk" transform="translate(1361.25 1543.5) scale(1 1.04)" text-anchor="middle">20</text>
<text class="tk" transform="translate(1414.88 1543.5) scale(1 1.04)" text-anchor="middle">23</text>
<text class="tk" transform="translate(1468.5 1543.5) scale(1 1.04)" text-anchor="middle">25</text>
<text class="tk" transform="translate(1254 1947.95) scale(1 1.04)" text-anchor="middle">0</text>
<text class="tk" transform="translate(1296.9 1947.95) scale(1 1.04)" text-anchor="middle">3</text>
<text class="tk" transform="translate(1339.8 1947.95) scale(1 1.04)" text-anchor="middle">6</text>
<text class="tk" transform="translate(1382.7 1947.95) scale(1 1.04)" text-anchor="middle">9</text>
<text class="tk" transform="translate(1425.6 1947.95) scale(1 1.04)" text-anchor="middle">12</text>
<text class="tk" transform="translate(1468.5 1947.95) scale(1 1.04)" text-anchor="middle">15</text>
<text class="tk" transform="translate(1225.9 1582.9) scale(1 1.04)" text-anchor="end">0</text>
<text class="tk" transform="translate(1225.9 1623.68) scale(1 1.04)" text-anchor="end">10</text>
<text class="tk" transform="translate(1225.9 1664.46) scale(1 1.04)" text-anchor="end">20</text>
<text class="tk" transform="translate(1225.9 1705.24) scale(1 1.04)" text-anchor="end">30</text>
<text class="tk" transform="translate(1225.9 1746.03) scale(1 1.04)" text-anchor="end">40</text>
<text class="tk" transform="translate(1225.9 1786.81) scale(1 1.04)" text-anchor="end">50</text>
<text class="tk" transform="translate(1225.9 1827.59) scale(1 1.04)" text-anchor="end">60</text>
<text class="tk" transform="translate(1225.9 1868.37) scale(1 1.04)" text-anchor="end">70</text>
<text class="tk" transform="translate(1225.9 1909.15) scale(1 1.04)" text-anchor="end">80</text>
<path class="t" d="M1254 1572V1562M1307.62 1572V1562M1361.25 1572V1562M1414.88 1572V1562M1468.5 1572V1562M1254 1898.25V1908.25M1296.9 1898.25V1908.25M1339.8 1898.25V1908.25M1382.7 1898.25V1908.25M1425.6 1898.25V1908.25M1468.5 1898.25V1908.25M1254 1572H1244M1254 1612.78H1244M1254 1653.56H1244M1254 1694.34H1244M1254 1735.12H1244M1254 1775.91H1244M1254 1816.69H1244M1254 1857.47H1244M1254 1898.25H1244"/>
<rect class="a" x="1254" y="1572" width="214.5" height="326.25"/>
<path d="M1470.2 1874.2L1470.5 1865.8" stroke="#000" stroke-width="1.8" stroke-linecap="round" fill="none"/>
<polyline class="l" points="1389,1608.75 1379,1631.25 1367.75,1695 1310.25,1816.75"/>
<circle class="c" cx="1389" cy="1608.75" r="9.05"/>
<circle class="c" cx="1379" cy="1631.25" r="9.05"/>
<circle class="c" cx="1367.75" cy="1695" r="9.05"/>
<circle class="c" cx="1310.25" cy="1816.75" r="9.05"/>
<polyline class="l" points="1308.5,1609.25 1353.5,1631.25 1337.25,1695 1382,1816.75"/>
<rect class="s" x="1299.35" y="1600.1" width="18.3" height="18.3"/>
<rect class="s" x="1344.35" y="1622.1" width="18.3" height="18.3"/>
<rect class="s" x="1328.1" y="1685.85" width="18.3" height="18.3"/>
<rect class="s" x="1372.85" y="1807.6" width="18.3" height="18.3"/>
<path class="d" d="M1255 1651.25H1468.5"/>
<path class="h" d="M1254 1878.75H1468.5"/>
</g>
<g>
<text class="st" transform="translate(1160 2193) rotate(-90) scale(0.973 1.04)" text-anchor="middle">St. 26</text>
<text class="tk" transform="translate(1253.5 2007) scale(1 1.04)" text-anchor="middle">15</text>
<text class="tk" transform="translate(1308.5 2007) scale(1 1.04)" text-anchor="middle">18</text>
<text class="tk" transform="translate(1363.5 2007) scale(1 1.04)" text-anchor="middle">20</text>
<text class="tk" transform="translate(1418.5 2007) scale(1 1.04)" text-anchor="middle">23</text>
<text class="tk" transform="translate(1473.5 2007) scale(1 1.04)" text-anchor="middle">25</text>
<text class="tk" transform="translate(1253.5 2429.2) scale(1 1.04)" text-anchor="middle">0</text>
<text class="tk" transform="translate(1297.5 2429.2) scale(1 1.04)" text-anchor="middle">3</text>
<text class="tk" transform="translate(1341.5 2429.2) scale(1 1.04)" text-anchor="middle">6</text>
<text class="tk" transform="translate(1385.5 2429.2) scale(1 1.04)" text-anchor="middle">9</text>
<text class="tk" transform="translate(1429.5 2429.2) scale(1 1.04)" text-anchor="middle">12</text>
<text class="tk" transform="translate(1473.5 2429.2) scale(1 1.04)" text-anchor="middle">15</text>
<text class="tk" transform="translate(1225.4 2046.4) scale(1 1.04)" text-anchor="end">0</text>
<text class="tk" transform="translate(1225.4 2115.2) scale(1 1.04)" text-anchor="end">20</text>
<text class="tk" transform="translate(1225.4 2184) scale(1 1.04)" text-anchor="end">40</text>
<text class="tk" transform="translate(1225.4 2252.8) scale(1 1.04)" text-anchor="end">60</text>
<text class="tk" transform="translate(1225.4 2321.6) scale(1 1.04)" text-anchor="end">80</text>
<text class="tk" transform="translate(1225.4 2390.4) scale(1 1.04)" text-anchor="end">100</text>
<path class="t" d="M1253.5 2035.5V2025.5M1308.5 2035.5V2025.5M1363.5 2035.5V2025.5M1418.5 2035.5V2025.5M1473.5 2035.5V2025.5M1253.5 2379.5V2389.5M1297.5 2379.5V2389.5M1341.5 2379.5V2389.5M1385.5 2379.5V2389.5M1429.5 2379.5V2389.5M1473.5 2379.5V2389.5M1253.5 2035.5H1243.5M1253.5 2104.3H1243.5M1253.5 2173.1H1243.5M1253.5 2241.9H1243.5M1253.5 2310.7H1243.5M1253.5 2379.5H1243.5"/>
<rect class="a" x="1253.5" y="2035.5" width="220" height="344"/>
<path d="M1475.2 2290.2L1475.5 2281.8" stroke="#000" stroke-width="1.8" stroke-linecap="round" fill="none"/>
<polyline class="l" style="stroke-width:3.4" points="1420.75,2080.5 1420.75,2108 1409,2186.25 1259.5,2339.5"/>
<circle class="c" cx="1420.75" cy="2080.5" r="9.05"/>
<circle class="c" cx="1420.75" cy="2108" r="9.05"/>
<circle class="c" cx="1409" cy="2186.25" r="9.05"/>
<circle class="c" cx="1259.5" cy="2339.5" r="9.05"/>
<polyline class="l" points="1280.75,2080.5 1281.5,2108 1286.5,2186.25 1350.75,2339.5"/>
<rect class="s" x="1271.6" y="2071.35" width="18.3" height="18.3"/>
<rect class="s" x="1272.35" y="2098.85" width="18.3" height="18.3"/>
<rect class="s" x="1277.35" y="2177.1" width="18.3" height="18.3"/>
<rect class="s" x="1341.6" y="2330.35" width="18.3" height="18.3"/>
<path class="d" d="M1254.5 2190.5H1473.5"/>
<path class="h" d="M1253.5 2253.25H1473.5"/>
</g>
</svg>
</body></html>
